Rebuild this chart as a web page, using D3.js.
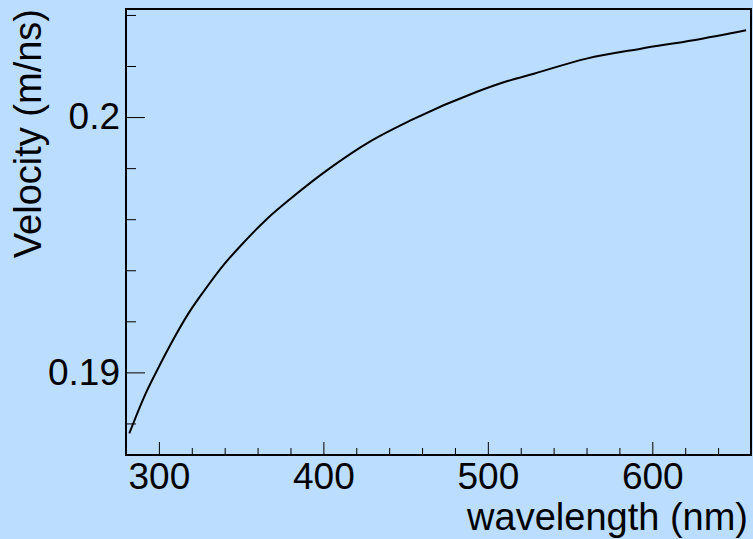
<!DOCTYPE html>
<html>
<head>
<meta charset="utf-8">
<script src="https://cdn.jsdelivr.net/npm/d3@7"></script>
<style>
  body { margin: 0; background: #bbddff; }
  text { font-family: "Liberation Sans", Arial, Helvetica, sans-serif; fill: #000; }
</style>
</head>
<body>
<div id="chart"></div>
<script>
// wavelength (nm) and velocity (m/ns)
var wavelength = [282, 292, 300, 308, 318, 327, 340, 349, 366, 380, 404, 428, 453, 493, 512, 528, 560, 593, 625, 657];
var velocity = [0.18761, 0.18918, 0.19022, 0.19120, 0.19231, 0.19315, 0.19426, 0.19491, 0.19603, 0.19680,
  0.19800, 0.19903, 0.19987, 0.20098, 0.20141, 0.20170, 0.20229, 0.20268, 0.20301, 0.20340];

var xMajor = [300, 400, 500, 600];
var xMinor = [320, 340, 360, 380, 420, 440, 460, 480, 520, 540, 560, 580, 620, 640, 660];
var yMajor = [0.19, 0.2];
var yMinor = [0.188, 0.192, 0.194, 0.196, 0.198, 0.202, 0.204];

var svgWidth = 753;
var svgHeight = 539;
var frame = { left: 126, top: 9, right: 751, bottom: 455 };

var svg = d3.select("#chart")
  .append("svg")
  .attr("width", svgWidth)
  .attr("height", svgHeight);

svg.append("rect")
  .attr("width", svgWidth)
  .attr("height", svgHeight)
  .attr("fill", "#bbddff");

var x = d3.scaleLinear()
  .domain([280, 660])
  .range([frame.left, frame.right]);

var y = d3.scaleLinear()
  .domain([0.186764, 0.204233])
  .range([frame.bottom, frame.top]);

// x axis: major ticks with labels, minor ticks without
var xAxisMajor = svg.append("g")
  .attr("transform", `translate(0, ${frame.bottom})`)
  .call(d3.axisBottom(x).tickValues(xMajor).tickSizeInner(-13).tickSizeOuter(0).tickPadding(8).tickFormat(d3.format("d")));
var xAxisMinor = svg.append("g")
  .attr("transform", `translate(0, ${frame.bottom})`)
  .call(d3.axisBottom(x).tickValues(xMinor).tickSizeInner(-7).tickSizeOuter(0).tickFormat(""));

// y axis
var yAxisMajor = svg.append("g")
  .attr("transform", `translate(${frame.left}, 0)`)
  .call(d3.axisLeft(y).tickValues(yMajor).tickSizeInner(-19).tickSizeOuter(0).tickPadding(6).tickFormat(d => String(+d.toFixed(3))));
var yAxisMinor = svg.append("g")
  .attr("transform", `translate(${frame.left}, 0)`)
  .call(d3.axisLeft(y).tickValues(yMinor).tickSizeInner(-10).tickSizeOuter(0).tickFormat(""));

svg.selectAll(".domain").remove();
svg.selectAll(".tick line").attr("stroke", "#000").attr("stroke-width", 1);
svg.selectAll(".tick text")
  .attr("font-size", "37px")
  .attr("font-family", "Liberation Sans, Arial, sans-serif");

// frame
svg.append("rect")
  .attr("x", frame.left)
  .attr("y", frame.top)
  .attr("width", frame.right - frame.left)
  .attr("height", frame.bottom - frame.top)
  .attr("fill", "none")
  .attr("stroke", "#000")
  .attr("stroke-width", 2);

// the curve
var line = d3.line()
  .x((d, i) => x(wavelength[i]))
  .y(d => y(d))
  .curve(d3.curveMonotoneX);

svg.append("path")
  .datum(velocity)
  .attr("d", line)
  .attr("fill", "none")
  .attr("stroke", "#000")
  .attr("stroke-width", 2);

// axis titles
svg.append("text")
  .attr("x", 748)
  .attr("y", 530)
  .attr("text-anchor", "end")
  .attr("font-size", "38px")
  .text("wavelength (nm)");

svg.append("text")
  .attr("transform", "translate(41, 9) rotate(-90)")
  .attr("text-anchor", "end")
  .attr("font-size", "38px")
  .text("Velocity (m/ns)");
</script>
</body>
</html>
